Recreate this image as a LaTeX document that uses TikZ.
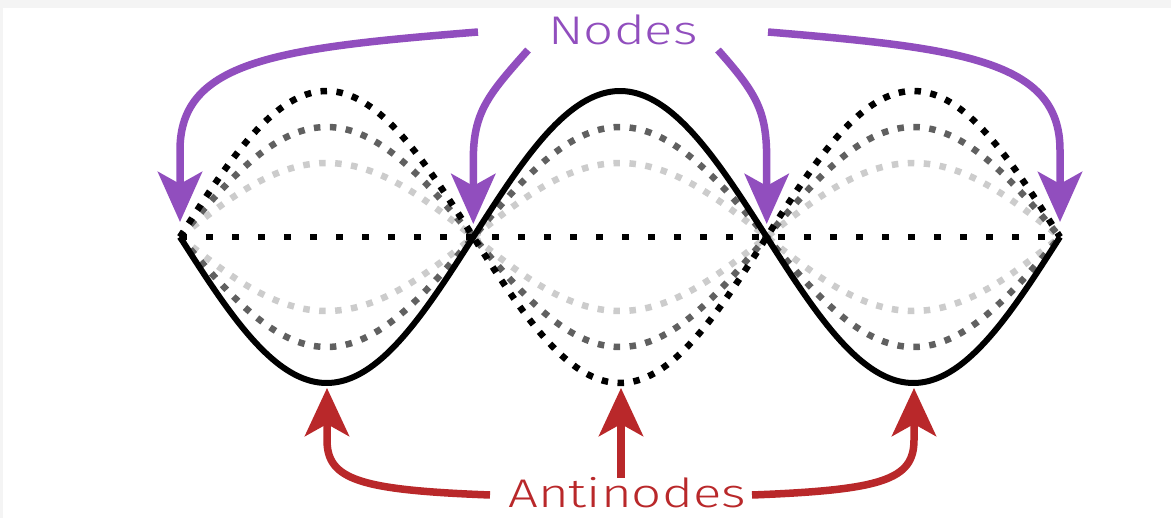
\documentclass[tikz,border=0pt]{standalone}
\usepackage{fontspec}
\usetikzlibrary{arrows.meta}
\newfontfamily\labfont{Fira Sans Light}
\definecolor{purp}{RGB}{145,78,190}
\definecolor{redd}{RGB}{185,40,42}
\definecolor{dgray}{RGB}{96,96,96}
\definecolor{lgray}{RGB}{204,204,204}
\definecolor{bggray}{RGB}{244,244,244}
\tikzset{
  wavedots/.style={line width=6.5pt, dash pattern=on 6.5pt off 9.5pt, line cap=butt},
  flatdots/.style={line width=6.5pt, dash pattern=on 7pt off 19pt, line cap=butt},
  solidwave/.style={line width=6pt, black},
  parrow/.style={purp, line width=7.5pt, -{Stealth[length=50pt, width=44pt, inset=12pt]}},
  rarrow/.style={redd, line width=7.5pt, -{Stealth[length=48pt, width=44pt, inset=12pt]}},
  lab/.style={font=\labfont\fontsize{40}{42}\selectfont, inner sep=0pt}
}
\begin{document}
\begin{tikzpicture}[x=1pt,y=-1pt]
\useasboundingbox (0,0) rectangle (1171,518);
\fill[bggray] (0,0) rectangle (1171,518);
\fill[white] (3,8) rectangle (1171,518);
% standing wave envelopes
\foreach \a/\c in {74/lgray, 110/dgray} {
  \draw[wavedots, \c] plot[domain=180:1060, samples=240, smooth] (\x, {237+\a*sin(((\x-180)/293.333)*180)});
  \draw[wavedots, \c] plot[domain=180:1060, samples=240, smooth] (\x, {237-\a*sin(((\x-180)/293.333)*180)});
}
\draw[wavedots, black] plot[domain=180:1060, samples=240, smooth] (\x, {237-146*sin(((\x-180)/293.333)*180)});
\coordinate (n1) at (180,237);
\coordinate (n2) at (473.3,237);
\coordinate (n3) at (766.7,237);
\coordinate (n4) at (1060,237);
\draw[flatdots, black] (n1) -- (n4);
\draw[solidwave] plot[domain=180:1060, samples=240, smooth] (\x, {237+146*sin(((\x-180)/293.333)*180)});
% labels
\node[lab, text=purp] (nodes) at (623,30) {\scalebox{1.32}[1]{Nodes}};
\node[lab, text=redd] (anti) at (627,493) {\scalebox{1.32}[1]{Antinodes}};
% node arrows
\coordinate (t1) at (180,222);
\coordinate (t2) at (473.3,224);
\coordinate (t3) at (766.7,224);
\coordinate (t4) at (1060,222);
\coordinate (s1) at (478,32);
\coordinate (s2) at (528,50);
\coordinate (s3) at (718,50);
\coordinate (s4) at (768,32);
\draw[parrow] (s1) .. controls (280,48) and (180,60) .. (180,150) -- (t1);
\draw[parrow] (s2) .. controls (488,95) and (473.3,112) .. (473.3,160) -- (t2);
\draw[parrow] (s3) .. controls (758,95) and (766.7,112) .. (766.7,160) -- (t3);
\draw[parrow] (s4) .. controls (960,48) and (1060,60) .. (1060,150) -- (t4);
% antinode arrows
\coordinate (a1) at (327,388);
\coordinate (a2) at (621,388);
\coordinate (a3) at (914,388);
\coordinate (r1) at (490,495);
\coordinate (r2) at (621,478);
\coordinate (r3) at (752,495);
\draw[rarrow] (r1) .. controls (360,490) and (327,480) .. (327,440) -- (a1);
\draw[rarrow] (r2) -- (a2);
\draw[rarrow] (r3) .. controls (882,490) and (914,480) .. (914,440) -- (a3);
\end{tikzpicture}
\end{document}
